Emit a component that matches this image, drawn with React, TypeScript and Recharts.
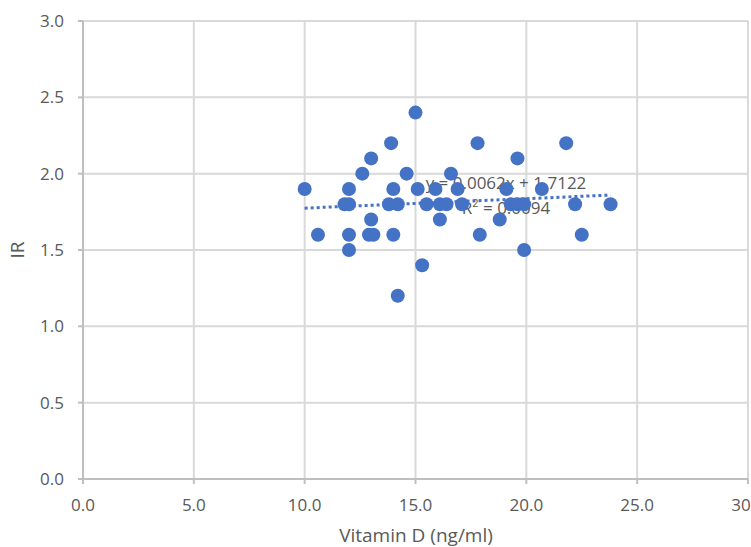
import { ScatterChart, Scatter, XAxis, YAxis, CartesianGrid, ReferenceLine, Label, Customized } from 'recharts'

// vitamin D (ng/ml) and IR
const vitaminD = [
  15.0, 13.9, 17.8, 21.8, 13.0, 19.6, 12.6, 14.6, 16.6, 10.0, 12.0, 14.0, 15.1, 15.9, 16.9, 19.1, 20.7,
  11.8, 12.0, 13.8, 14.2, 15.5, 16.1, 16.4, 17.1, 19.3, 19.6, 19.9, 22.2, 23.8, 13.0, 16.1, 18.8,
  10.6, 12.0, 12.9, 13.1, 14.0, 17.9, 22.5, 12.0, 19.9, 15.3, 14.2,
]
const irValues = [
  2.4, 2.2, 2.2, 2.2, 2.1, 2.1, 2.0, 2.0, 2.0, 1.9, 1.9, 1.9, 1.9, 1.9, 1.9, 1.9, 1.9,
  1.8, 1.8, 1.8, 1.8, 1.8, 1.8, 1.8, 1.8, 1.8, 1.8, 1.8, 1.8, 1.8, 1.7, 1.7, 1.7,
  1.6, 1.6, 1.6, 1.6, 1.6, 1.6, 1.6, 1.5, 1.5, 1.4, 1.2,
]
const xTicks = [0, 5, 10, 15, 20, 25, 30]
const yTicks = [0, 0.5, 1, 1.5, 2, 2.5, 3]

// trendline as printed on the chart
const slope = 0.0062
const intercept = 1.7122
const rSquared = 0.0094

const points = vitaminD.map((x, i) => ({ x, y: irValues[i] }))
const xMin = Math.min(...vitaminD)
const xMax = Math.max(...vitaminD)

const BLUE = '#4472c4'
const TEXT = '#595959'
const FONT = '"Open Sans", sans-serif'

const Dot = (props: any) => <circle cx={props.cx} cy={props.cy} r={7} fill={BLUE} />

export default function App() {
  return (
    <div style={{ position: 'absolute', left: 0, top: 0, width: 751, height: 547, overflow: 'hidden', background: '#fff' }}>
      <ScatterChart width={780} height={547} margin={{ top: 21, right: 32, left: 0, bottom: 0 }} style={{ fontFamily: FONT }}>
        <CartesianGrid stroke="#d9d9d9" strokeWidth={2} />
        <XAxis
          type="number"
          dataKey="x"
          domain={[0, 30]}
          ticks={xTicks}
          tickFormatter={(v) => v.toFixed(1)}
          height={68}
          stroke="#bfbfbf"
          strokeWidth={2}
          tickSize={5}
          tickMargin={15}
          tick={{ fill: TEXT, fontSize: 17 }}
          interval={0}
        >
          <Label
            content={() => (
              <text x={416} y={542} textAnchor="middle" fill={TEXT} fontSize={19} fontFamily={FONT}>
                Vitamin D (ng/ml)
              </text>
            )}
          />
        </XAxis>
        <YAxis
          type="number"
          dataKey="y"
          domain={[0, 3]}
          ticks={yTicks}
          tickFormatter={(v) => v.toFixed(1)}
          width={83}
          stroke="#bfbfbf"
          strokeWidth={2}
          tickSize={5}
          tickMargin={14}
          tick={{ fill: TEXT, fontSize: 17 }}
          interval={0}
        >
          <Label
            content={() => (
              <text x={24} y={250} textAnchor="middle" transform="rotate(-90 24 250)" fill={TEXT} fontSize={19} fontFamily={FONT}>
                IR
              </text>
            )}
          />
        </YAxis>
        <Scatter data={points} fill={BLUE} shape={Dot} isAnimationActive={false} />
        <ReferenceLine
          segment={[
            { x: xMin, y: slope * xMin + intercept },
            { x: xMax, y: slope * xMax + intercept },
          ]}
          stroke={BLUE}
          strokeWidth={3}
          strokeDasharray="3 3"
          ifOverflow="visible"
        />
        <Customized
          component={() => (
            <g fill={TEXT} fontSize={17} fontFamily={FONT} textAnchor="middle">
              <text x={506} y={189}>{`y = ${slope}x + ${intercept}`}</text>
              <text x={506} y={214}>
                R<tspan fontSize={11} dy={-7}>2</tspan>
                <tspan dy={7}>{` = ${rSquared}`}</tspan>
              </text>
            </g>
          )}
        />
      </ScatterChart>
    </div>
  )
}
